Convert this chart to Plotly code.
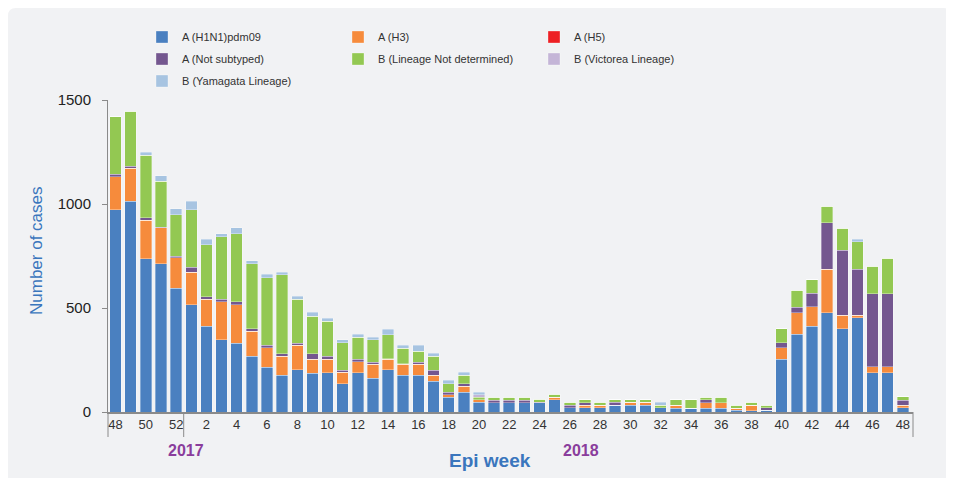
import plotly.graph_objects as go

weeks = [48, 49, 50, 51, 52] + list(range(1, 49))

h1n1 = [973, 1013, 737, 713, 595, 516, 412, 348, 331, 269, 216, 176, 203, 187, 188, 136, 188, 163, 203, 177,
        177, 148, 71, 95, 46, 44, 44, 44, 44, 59, 21, 21, 21, 32, 32, 32, 21, 19, 19, 19,
        19, 8, 5, 8, 254, 374, 413, 478, 400, 453, 189, 189, 20]
h3 = [157, 158, 185, 172, 146, 157, 130, 181, 185, 119, 93, 93, 117, 67, 66, 54, 54, 66, 51, 52,
      52, 28, 13, 29, 12, 0, 0, 0, 0, 13, 0, 11, 11, 0, 15, 15, 0, 13, 0, 26,
      26, 11, 27, 0, 54, 104, 93, 209, 65, 12, 28, 28, 13]
h5 = [0] * 53
not_subtyped = [13, 11, 11, 3, 9, 24, 13, 13, 13, 13, 11, 11, 11, 26, 13, 11, 12, 11, 2, 3,
                11, 25, 11, 12, 0, 13, 13, 13, 3, 0, 11, 13, 0, 15, 0, 0, 0, 0, 0, 13,
                0, 0, 0, 12, 24, 26, 64, 223, 313, 222, 351, 351, 24]
b_nd = [276, 265, 302, 221, 199, 276, 248, 300, 329, 312, 326, 380, 211, 181, 170, 132, 106, 108, 116, 75,
        53, 68, 41, 40, 13, 14, 14, 14, 14, 13, 15, 14, 15, 12, 12, 12, 11, 27, 40, 14,
        27, 13, 15, 12, 68, 82, 67, 80, 105, 132, 133, 172, 16]
b_vic = [0] * 24 + [12] + [0] * 28
b_yam = [0, 0, 14, 28, 27, 40, 28, 16, 27, 13, 16, 13, 14, 19, 13, 15, 13, 12, 27, 13,
         27, 13, 16, 14, 13, 0, 0, 0, 0, 0, 0, 0, 0, 0, 0, 0, 15, 0, 0, 0,
         0, 0, 0, 0, 0, 0, 0, 0, 0, 12, 0, 0, 0]

series = [
    ("A (H1N1)pdm09", h1n1, "#4a80c0", "legend"),
    ("A (H3)", h3, "#f68b3c", "legend"),
    ("A (H5)", h5, "#ed2024", "legend"),
    ("A (Not subtyped)", not_subtyped, "#74578f", "legend2"),
    ("B (Lineage Not determined)", b_nd, "#93c852", "legend2"),
    ("B (Victorea Lineage)", b_vic, "#c4b5d7", "legend2"),
    ("B (Yamagata Lineage)", b_yam, "#a7c4e1", "legend3"),
]

x_idx = list(range(len(weeks)))
tick_idx = [i for i in x_idx if weeks[i] % 2 == 0]
tick_txt = [str(weeks[i]) for i in tick_idx]

FONT = "Helvetica, Arial, 'Liberation Sans', sans-serif"
OFF = 8  # default page body margin
W, H = 954 - OFF, 478 - OFF
PL, PR, PT, PB = 108, 913, 100, 412  # plot area in page pixels


def px(p):
    return (p - PL) / (PR - PL)


def py(p):
    return (PB - p) / (PB - PT)


fig = go.Figure()
for name, vals, col, lg in series:
    fig.add_trace(go.Bar(
        x=x_idx, y=vals, name=name, marker_color=col,
        marker_line=dict(width=0.6, color="rgba(255,255,255,0.55)"),
        legend=lg, hoverinfo="name+y",
    ))

# rounded background panel
x0, x1, y0, y1, r = 8, 951, 8, 490, 8
path = (f"M {px(x0 + r)},{py(y0)} L {px(x1 - r)},{py(y0)} Q {px(x1)},{py(y0)} {px(x1)},{py(y0 + r)} "
        f"L {px(x1)},{py(y1)} L {px(x0)},{py(y1)} L {px(x0)},{py(y0 + r)} Q {px(x0)},{py(y0)} {px(x0 + r)},{py(y0)} Z")
shapes = [dict(type="path", xref="paper", yref="paper", path=path,
               fillcolor="#f1f2f4", line=dict(width=0), layer="below")]
ydrop = py(437)
for xv, ref in [(0, "paper"), (4.5, "x"), (1, "paper")]:
    shapes.append(dict(type="line", xref=ref, yref="paper", x0=xv, x1=xv, y0=0, y1=ydrop,
                       line=dict(color="#8a8a8a", width=1)))

leg_common = dict(orientation="h", xref="container", yref="container", xanchor="left", yanchor="middle",
                  font=dict(family=FONT, size=11, color="#333333"), bgcolor="rgba(0,0,0,0)",
                  entrywidth=151, itemclick=False, itemdoubleclick=False, traceorder="normal")

LX = 134 / W
fig.update_layout(
    width=W, height=H,
    margin=dict(l=PL - OFF, r=W - (PR - OFF), t=PT - OFF, b=H - (PB - OFF), autoexpand=False),
    paper_bgcolor="white", plot_bgcolor="rgba(0,0,0,0)",
    barmode="stack", bargap=0.24,
    font=dict(family=FONT, color="#333333"),
    shapes=shapes,
    legend=dict(x=LX, y=1 - 29 / H, **leg_common),
    legend2=dict(x=LX, y=1 - 51 / H, **leg_common),
    legend3=dict(x=LX, y=1 - 73 / H, **leg_common),
    xaxis=dict(range=[-0.5, 52.67], tickmode="array", tickvals=tick_idx, ticktext=tick_txt,
               showline=True, linecolor="#8a8a8a", linewidth=1.5, ticks="", showgrid=False, zeroline=False,
               tickfont=dict(family=FONT, size=13, color="#333333"), fixedrange=True),
    yaxis=dict(range=[0, 1500], tickvals=[0, 500, 1000, 1500], showline=True, linecolor="#8a8a8a",
               linewidth=1, ticks="outside", ticklen=5, tickcolor="#8a8a8a", showgrid=False, zeroline=False,
               tickfont=dict(family=FONT, size=15, color="#222222"), ticklabelstandoff=8, fixedrange=True),
    annotations=[
        dict(text="Number of cases", xref="paper", yref="paper", x=px(37), y=py(251), textangle=-90,
             showarrow=False, font=dict(family=FONT, size=17, color="#3a76bd"), xanchor="center", yanchor="middle"),
        dict(text="<b>Epi week</b>", xref="paper", yref="paper", x=px(490), y=py(461),
             showarrow=False, font=dict(family=FONT, size=19, color="#3a76bd"), xanchor="center", yanchor="middle"),
        dict(text="<b>2017</b>", xref="paper", yref="paper", x=px(186), y=py(450),
             showarrow=False, font=dict(family=FONT, size=16, color="#8a3d9c"), xanchor="center", yanchor="middle"),
        dict(text="<b>2018</b>", xref="paper", yref="paper", x=px(581), y=py(450),
             showarrow=False, font=dict(family=FONT, size=16, color="#8a3d9c"), xanchor="center", yanchor="middle"),
    ],
)

fig.write_html("out.html")
